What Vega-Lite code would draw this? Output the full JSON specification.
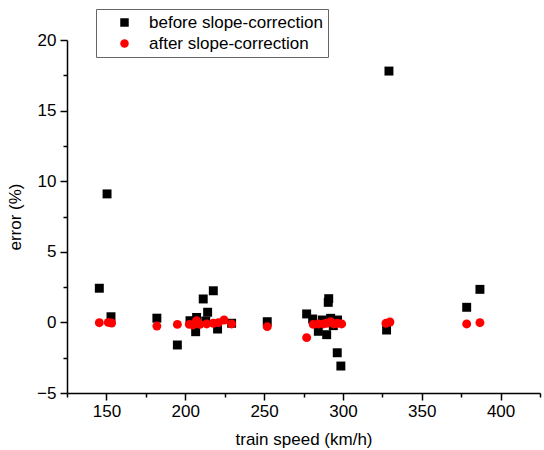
{
  "$schema": "https://vega.github.io/schema/vega-lite/v6.json",
  "width": 473,
  "height": 353,
  "autosize": {"type": "none"},
  "padding": {"left": 67, "top": 40, "right": 4, "bottom": 57},
  "background": "white",
  "config": {
    "view": {"stroke": null},
    "font": "Liberation Sans",
    "axis": {
      "grid": false,
      "domainColor": "#000000",
      "domainWidth": 1.5,
      "tickColor": "#000000",
      "tickWidth": 1.5,
      "labelColor": "#000000",
      "labelFontSize": 17,
      "labelFont": "Liberation Sans",
      "titleFont": "Liberation Sans",
      "titleFontSize": 17,
      "titleFontWeight": "normal",
      "titleColor": "#000000"
    },
    "legend": {
      "labelFontSize": 17,
      "labelFont": "Liberation Sans",
      "labelColor": "#000000",
      "labelLimit": 400
    }
  },
  "data": {
    "values": [
      {"speed": 145.5, "error": 2.42, "type": "before slope-correction"},
      {"speed": 150.4, "error": 9.1, "type": "before slope-correction"},
      {"speed": 152.9, "error": 0.4, "type": "before slope-correction"},
      {"speed": 182.0, "error": 0.3, "type": "before slope-correction"},
      {"speed": 195.0, "error": -1.6, "type": "before slope-correction"},
      {"speed": 203.0, "error": 0.12, "type": "before slope-correction"},
      {"speed": 206.6, "error": -0.66, "type": "before slope-correction"},
      {"speed": 207.2, "error": 0.35, "type": "before slope-correction"},
      {"speed": 211.4, "error": 1.66, "type": "before slope-correction"},
      {"speed": 214.2, "error": 0.72, "type": "before slope-correction"},
      {"speed": 213.0, "error": 0.1, "type": "before slope-correction"},
      {"speed": 217.8, "error": 2.24, "type": "before slope-correction"},
      {"speed": 220.5, "error": -0.47, "type": "before slope-correction"},
      {"speed": 229.4, "error": -0.06, "type": "before slope-correction"},
      {"speed": 252.0, "error": 0.05, "type": "before slope-correction"},
      {"speed": 277.0, "error": 0.6, "type": "before slope-correction"},
      {"speed": 280.8, "error": 0.24, "type": "before slope-correction"},
      {"speed": 284.4, "error": -0.63, "type": "before slope-correction"},
      {"speed": 286.9, "error": 0.17, "type": "before slope-correction"},
      {"speed": 289.7, "error": -0.87, "type": "before slope-correction"},
      {"speed": 291.0, "error": 1.68, "type": "before slope-correction"},
      {"speed": 290.7, "error": 1.42, "type": "before slope-correction"},
      {"speed": 292.2, "error": 0.29, "type": "before slope-correction"},
      {"speed": 293.9, "error": -0.23, "type": "before slope-correction"},
      {"speed": 296.6, "error": 0.17, "type": "before slope-correction"},
      {"speed": 296.4, "error": -2.15, "type": "before slope-correction"},
      {"speed": 298.7, "error": -3.09, "type": "before slope-correction"},
      {"speed": 327.7, "error": -0.54, "type": "before slope-correction"},
      {"speed": 329.2, "error": 17.8, "type": "before slope-correction"},
      {"speed": 378.5, "error": 1.07, "type": "before slope-correction"},
      {"speed": 386.9, "error": 2.34, "type": "before slope-correction"},
      {"speed": 145.5, "error": -0.02, "type": "after slope-correction"},
      {"speed": 151.2, "error": 0.0, "type": "after slope-correction"},
      {"speed": 153.3, "error": -0.04, "type": "after slope-correction"},
      {"speed": 182.0, "error": -0.26, "type": "after slope-correction"},
      {"speed": 195.0, "error": -0.14, "type": "after slope-correction"},
      {"speed": 202.6, "error": -0.14, "type": "after slope-correction"},
      {"speed": 205.0, "error": -0.18, "type": "after slope-correction"},
      {"speed": 207.2, "error": 0.12, "type": "after slope-correction"},
      {"speed": 209.3, "error": -0.14, "type": "after slope-correction"},
      {"speed": 213.6, "error": -0.11, "type": "after slope-correction"},
      {"speed": 217.8, "error": -0.06, "type": "after slope-correction"},
      {"speed": 221.0, "error": -0.02, "type": "after slope-correction"},
      {"speed": 224.6, "error": 0.17, "type": "after slope-correction"},
      {"speed": 229.4, "error": -0.11, "type": "after slope-correction"},
      {"speed": 252.0, "error": -0.3, "type": "after slope-correction"},
      {"speed": 277.0, "error": -1.08, "type": "after slope-correction"},
      {"speed": 281.2, "error": -0.14, "type": "after slope-correction"},
      {"speed": 284.4, "error": -0.11, "type": "after slope-correction"},
      {"speed": 287.5, "error": -0.11, "type": "after slope-correction"},
      {"speed": 289.7, "error": -0.06, "type": "after slope-correction"},
      {"speed": 292.2, "error": 0.05, "type": "after slope-correction"},
      {"speed": 294.3, "error": -0.11, "type": "after slope-correction"},
      {"speed": 296.6, "error": -0.06, "type": "after slope-correction"},
      {"speed": 299.2, "error": -0.11, "type": "after slope-correction"},
      {"speed": 327.3, "error": -0.06, "type": "after slope-correction"},
      {"speed": 329.8, "error": 0.03, "type": "after slope-correction"},
      {"speed": 378.5, "error": -0.11, "type": "after slope-correction"},
      {"speed": 386.9, "error": -0.02, "type": "after slope-correction"}
    ]
  },
  "mark": {"type": "point", "filled": true, "opacity": 1, "size": 80},
  "encoding": {
    "x": {
      "field": "speed",
      "type": "quantitative",
      "scale": {"domain": [125, 425], "nice": false, "zero": false},
      "axis": {
        "title": "train speed (km/h)",
        "values": [125, 150, 175, 200, 225, 250, 275, 300, 325, 350, 375, 400, 425],
        "labelExpr": "datum.value % 50 === 0 ? datum.label : ''",
        "tickSize": {"condition": {"test": "datum.value % 50 === 0", "value": 7}, "value": 4},
        "labelPadding": 3,
        "titlePadding": 12
      }
    },
    "y": {
      "field": "error",
      "type": "quantitative",
      "scale": {"domain": [-5, 20], "nice": false, "zero": false},
      "axis": {
        "title": "error (%)",
        "values": [-5, -2.5, 0, 2.5, 5, 7.5, 10, 12.5, 15, 17.5, 20],
        "labelExpr": "datum.value % 5 === 0 ? datum.label : ''",
        "tickSize": {"condition": {"test": "datum.value % 5 === 0", "value": 7}, "value": 4},
        "labelPadding": 4,
        "titlePadding": 12
      }
    },
    "shape": {
      "field": "type",
      "type": "nominal",
      "sort": null,
      "scale": {"domain": ["before slope-correction", "after slope-correction"], "range": ["square", "circle"]},
      "legend": {
        "title": null,
        "orient": "none",
        "legendX": 29,
        "legendY": -31,
        "symbolSize": 72,
        "symbolOffset": 15,
        "labelOffset": 16,
        "padding": 5,
        "rowPadding": 3,
        "strokeColor": "#666666",
        "fillColor": "#ffffff"
      }
    },
    "color": {
      "field": "type",
      "type": "nominal",
      "sort": null,
      "scale": {"domain": ["before slope-correction", "after slope-correction"], "range": ["#000000", "#ff0000"]},
      "legend": {
        "title": null,
        "orient": "none",
        "legendX": 29,
        "legendY": -31,
        "symbolSize": 72,
        "symbolOffset": 15,
        "labelOffset": 16,
        "padding": 5,
        "rowPadding": 3,
        "strokeColor": "#666666",
        "fillColor": "#ffffff"
      }
    },
    "order": {"field": "type", "sort": "descending"}
  }
}
